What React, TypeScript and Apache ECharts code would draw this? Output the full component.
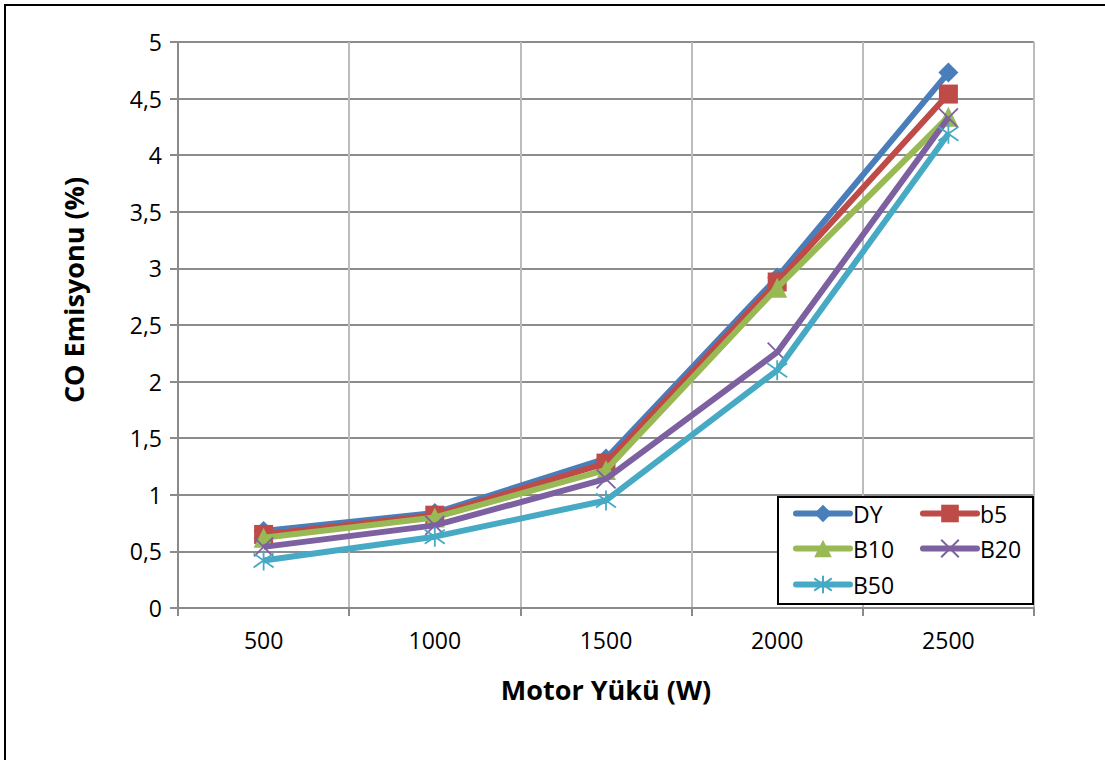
import React, { useEffect, useRef } from "react";
import * as echarts from "echarts";

const categories = ["500", "1000", "1500", "2000", "2500"];
const seriesNames = ["DY", "b5", "B10", "B20", "B50"];
const dyValues = [0.68, 0.84, 1.32, 2.92, 4.73];
const b5Values = [0.65, 0.82, 1.28, 2.88, 4.54];
const b10Values = [0.62, 0.80, 1.22, 2.83, 4.34];
const b20Values = [0.54, 0.73, 1.14, 2.26, 4.33];
const b50Values = [0.42, 0.63, 0.95, 2.10, 4.19];
const yTicks = { min: 0, max: 5, interval: 0.5 };

const colors = ["#4A7EBB", "#BE4B48", "#98B954", "#7D60A0", "#46AAC5"];
const FONT = "'Open Sans', 'Noto Sans', sans-serif";

export default function App() {
  const ref = useRef<HTMLDivElement>(null);
  useEffect(() => {
    if (!ref.current) return;
    const chart = echarts.init(ref.current, undefined, { renderer: "svg" });
    const values = [dyValues, b5Values, b10Values, b20Values, b50Values];
    const symbols = [
      "diamond",
      "rect",
      "triangle",
      "path://M0,0L10,10M10,0L0,10",
      "path://M5,0L5,10M0,1.5L10,8.5M10,1.5L0,8.5",
    ];
    const symbolSizes = [20, 19, 20, 19, 20];
    const series = seriesNames.map((name, i) => ({
      name,
      type: "line",
      data: values[i],
      symbol: symbols[i],
      symbolSize: symbolSizes[i],
      showSymbol: true,
      z: 2 + i * 0.01,
      lineStyle: { color: colors[i], width: 6 },
      itemStyle:
        i >= 3
          ? { color: colors[i], borderColor: colors[i], borderWidth: 1.8 }
          : { color: colors[i] },
      emphasis: { disabled: true },
    }));
    const legendPos = [
      { left: 793, top: 502 },
      { left: 920, top: 502 },
      { left: 793, top: 537 },
      { left: 920, top: 537 },
      { left: 793, top: 573 },
    ];
    const legends = seriesNames.map((name, i) => ({
      data: [name],
      left: legendPos[i].left,
      top: legendPos[i].top,
      itemWidth: 54,
      itemHeight: 22,
      itemGap: 0,
      padding: 0,
      selectedMode: false,
      z: 10,
      lineStyle: { width: 6, cap: "round" },
      textStyle: { fontFamily: FONT, fontSize: 23, color: "#000", padding: [0, 0, 0, -2] },
    }));
    chart.setOption({
      animation: false,
      backgroundColor: "#fff",
      grid: { left: 178, right: 71, top: 42, bottom: 152, containLabel: false },
      legend: legends,
      xAxis: {
        type: "category",
        data: categories,
        boundaryGap: true,
        axisLine: { show: true, lineStyle: { color: "#8a8a8a", width: 2 } },
        axisTick: { show: true, length: 8, alignWithLabel: false, lineStyle: { color: "#8a8a8a", width: 2 } },
        axisLabel: { fontFamily: FONT, fontSize: 23, color: "#000", margin: 20 },
        splitLine: { show: true, lineStyle: { color: "#bcbcbc", width: 2 } },
      },
      yAxis: {
        type: "value",
        min: yTicks.min,
        max: yTicks.max,
        interval: yTicks.interval,
        axisLine: { show: true, lineStyle: { color: "#8a8a8a", width: 2 } },
        axisTick: { show: true, length: 8, lineStyle: { color: "#8a8a8a", width: 2 } },
        axisLabel: {
          fontFamily: FONT,
          fontSize: 23,
          color: "#000",
          margin: 16,
          formatter: (v: number) => String(v).replace(".", ","),
        },
        splitLine: { show: true, lineStyle: { color: "#8c8c8c", width: 2 } },
      },
      graphic: [
        {
          type: "rect",
          shape: { x: 5, y: 5, width: 1300, height: 1000 },
          style: { fill: "none", stroke: "#000", lineWidth: 2 },
          z: 1,
          silent: true,
        },
        {
          type: "rect",
          shape: { x: 778, y: 497, width: 255, height: 107 },
          style: { fill: "#fff", stroke: "#000", lineWidth: 2 },
          z: 5,
          silent: true,
        },
        {
          type: "text",
          x: 606,
          y: 689,
          style: {
            text: "Motor Yükü (W)",
            font: `bold 27px ${FONT}`,
            fill: "#000",
            align: "center",
            verticalAlign: "middle",
          },
          z: 5,
        },
        {
          type: "text",
          x: 73,
          y: 290,
          rotation: Math.PI / 2,
          style: {
            text: "CO Emisyonu (%)",
            font: `bold 27px ${FONT}`,
            fill: "#000",
            align: "center",
            verticalAlign: "middle",
          },
          z: 5,
        },
      ],
      series,
    });
    return () => chart.dispose();
  }, []);
  return (
    <div
      ref={ref}
      style={{ position: "fixed", left: 0, top: 0, width: 1105, height: 760 }}
    />
  );
}
